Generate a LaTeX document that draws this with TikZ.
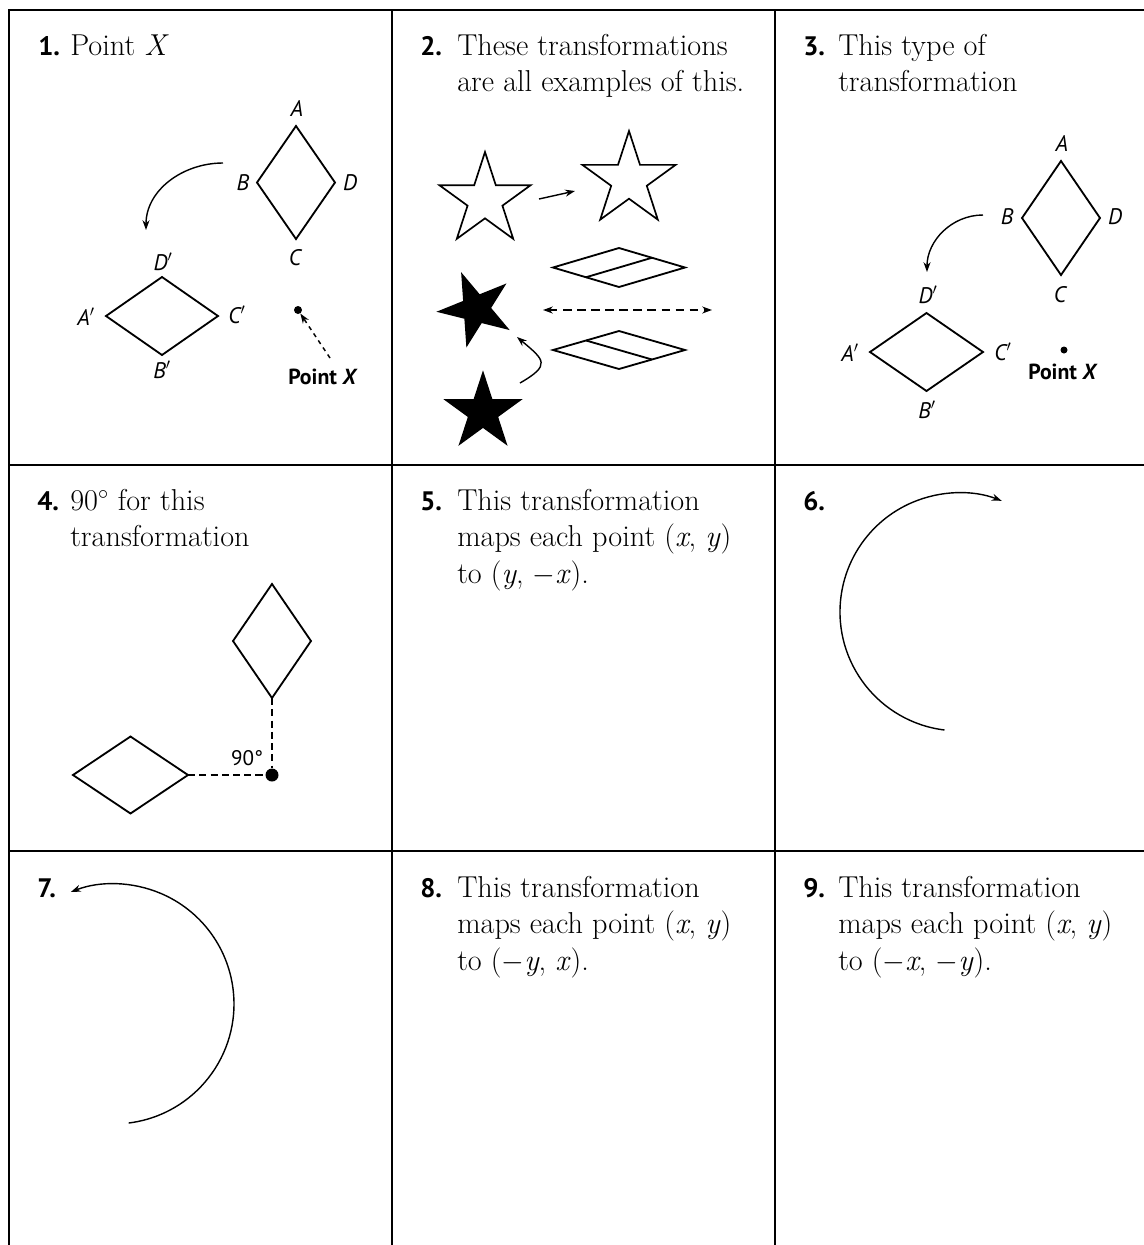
\documentclass[tikz,border=0pt]{standalone}
\usepackage{fontspec}
\setsansfont{PT Sans}
\usepackage{tikz}
\usetikzlibrary{shapes.geometric, arrows.meta, calc}

\def\pxu{0.025cm}

\begin{document}
\begin{tikzpicture}[x=0.025cm, y=0.025cm,
  rule/.style={line width=1.7pt},
  num/.style={font=\fontsize{19}{25}\sffamily\bfseries, inner sep=0, anchor=base west},
  txt/.style={font=\fontsize{21.5}{26.3}\selectfont, inner sep=0, anchor=base west},
  lbl/.style={font=\fontsize{16}{18}\sffamily\itshape, inner sep=0},
  tag/.style={font=\fontsize{15.5}{18}\sffamily\bfseries, inner sep=0},
  rhomb/.style={diamond, draw, line width=1.3pt, inner sep=0, outer sep=0},
  pstar/.style={star, star points=5, star point ratio=2.618, draw, line width=1.2pt, inner sep=0, outer sep=0},
  dot/.style={circle, fill, inner sep=0, minimum size=8*\pxu},
  arr/.style={-{Stealth[length=7pt,width=5pt]}, line width=1pt},
]
  \useasboundingbox (0,0) rectangle (1144,-1245);

  % Table rules
  \draw[rule] (1144,-10) -- (9,-10) -- (9,-1245);
  \draw[rule] (9,-465) -- (1144,-465);
  \draw[rule] (9,-851) -- (1144,-851);
  \draw[rule] (392,-10) -- (392,-1245);
  \draw[rule] (775,-10) -- (775,-1245);

  % Questions
  \node[num] (n1) at (38,-55) {1.};
  \node[txt] (t1) at (70,-55) {Point \textit{X}};
  \node[num] (n2) at (420,-55) {2.};
  \node[txt] (t2) at (457,-55) {\begin{tabular}[t]{@{}l@{}}These transformations\\are all examples of this.\end{tabular}};
  \node[num] (n3) at (803,-55) {3.};
  \node[txt] (t3) at (838,-55) {\begin{tabular}[t]{@{}l@{}}This type of\\transformation\end{tabular}};
  \node[num] (n4) at (37,-510) {4.};
  \node[txt] (t4) at (70,-510) {\begin{tabular}[t]{@{}l@{}}90$^\circ$ for this\\transformation\end{tabular}};
  \node[num] (n5) at (420,-510) {5.};
  \node[txt] (t5) at (457,-510) {\begin{tabular}[t]{@{}l@{}}This transformation\\maps each point (\textit{x}, \textit{y})\\to (\textit{y}, $-$\textit{x}).\end{tabular}};
  \node[num] (n6) at (803,-510) {6.};
  \node[num] (n7) at (37,-897) {7.};
  \node[num] (n8) at (420,-897) {8.};
  \node[txt] (t8) at (457,-897) {\begin{tabular}[t]{@{}l@{}}This transformation\\maps each point (\textit{x}, \textit{y})\\to ($-$\textit{y}, \textit{x}).\end{tabular}};
  \node[num] (n9) at (803,-897) {9.};
  \node[txt] (t9) at (838,-897) {\begin{tabular}[t]{@{}l@{}}This transformation\\maps each point (\textit{x}, \textit{y})\\to ($-$\textit{x}, $-$\textit{y}).\end{tabular}};

  % Panel 1
  \node[rhomb, minimum width=78*\pxu, minimum height=113*\pxu] (r1) at (296,-182.5) {};
  \node[rhomb, minimum width=112*\pxu, minimum height=78*\pxu] (r1p) at (162,-316) {};
  \node[lbl] (l1A) at (297,-108) {A};
  \node[lbl] (l1B) at (243,-183) {B};
  \node[lbl] (l1D) at (350,-183) {D};
  \node[lbl] (l1C) at (295,-258) {C};
  \node[lbl] (l1Dp) at (163,-262) {D$'$};
  \node[lbl] (l1Ap) at (86,-317) {A$'$};
  \node[lbl] (l1Cp) at (237,-315) {C$'$};
  \node[lbl] (l1Bp) at (162,-370) {B$'$};
  \node[dot] (x1) at (298,-310) {};
  \node[tag] (p1) at (323,-377) {Point \textit{X}};
  \coordinate (c1a) at (223,-163);
  \coordinate (c1b) at (146,-230);
  \coordinate (c1c) at (330,-358);
  \draw[arr] (c1a) to[out=180, in=90] (c1b);
  \draw[arr, dashed] (c1c) -- (x1);

  % Panel 2
  \node[pstar, minimum size=96*\pxu] (s2a) at (485,-200) {};
  \node[pstar, minimum size=98*\pxu] (s2b) at (629,-180) {};
  \node[pstar, fill, minimum size=74*\pxu, rotate=94] (s2c) at (476,-309) {};
  \node[pstar, fill, minimum size=78*\pxu] (s2d) at (483,-412) {};
  \node[rhomb, minimum width=132*\pxu, minimum height=39*\pxu] (d2a) at (619,-267.5) {};
  \node[rhomb, minimum width=132*\pxu, minimum height=38*\pxu] (d2b) at (619,-350) {};
  \draw[line width=1.3pt] ($(d2a.west)!0.5!(d2a.south)$) -- ($(d2a.north)!0.5!(d2a.east)$);
  \draw[line width=1.3pt] ($(d2b.west)!0.5!(d2b.north)$) -- ($(d2b.south)!0.5!(d2b.east)$);
  \coordinate (c2a) at (539,-199);
  \coordinate (c2b) at (575,-191);
  \coordinate (c2c) at (543,-310);
  \coordinate (c2d) at (712,-310);
  \coordinate (c2e) at (520,-383);
  \coordinate (c2f) at (517,-337);
  \draw[arr] (c2a) -- (c2b);
  \draw[arr, {Stealth[length=7pt,width=5pt]}-{Stealth[length=7pt,width=5pt]}, dash pattern=on 6pt off 4pt] (c2c) -- (c2d);
  \draw[arr] (c2e) to[out=30, in=-40, looseness=2] (c2f);

  % Panel 3
  \node[rhomb, minimum width=78*\pxu, minimum height=114*\pxu] (r3) at (1061,-218) {};
  \node[rhomb, minimum width=113*\pxu, minimum height=78*\pxu] (r3p) at (926.5,-352) {};
  \node[lbl] (l3A) at (1062,-143) {A};
  \node[lbl] (l3B) at (1007,-217) {B};
  \node[lbl] (l3D) at (1115,-217) {D};
  \node[lbl] (l3C) at (1060,-295) {C};
  \node[lbl] (l3Dp) at (928,-295) {D$'$};
  \node[lbl] (l3Ap) at (850,-353) {A$'$};
  \node[lbl] (l3Cp) at (1003,-352) {C$'$};
  \node[lbl] (l3Bp) at (927,-410) {B$'$};
  \node[dot, minimum size=7*\pxu] (x3) at (1064,-350) {};
  \node[tag] (p3) at (1063,-372) {Point \textit{X}};
  \coordinate (c3a) at (983,-215);
  \coordinate (c3b) at (927,-272);
  \draw[arr] (c3a) to[out=180, in=90] (c3b);

  % Panel 4
  \node[rhomb, minimum width=78*\pxu, minimum height=114*\pxu] (r4) at (272,-641) {};
  \node[rhomb, minimum width=115*\pxu, minimum height=77*\pxu] (r4p) at (130.5,-775) {};
  \node[dot, minimum size=13*\pxu] (o4) at (272,-775) {};
  \draw[line width=1.2pt, dashed, dash pattern=on 5pt off 3pt] (r4.south) -- (o4);
  \draw[line width=1.2pt, dashed, dash pattern=on 5pt off 3pt] (r4p.east) -- (o4);
  \node[font=\fontsize{15}{17}\sffamily, inner sep=0] (a4) at (247,-758) {90°};

  % Panel 6
  \coordinate (c6) at (944.5,-730);
  \draw[arr] (c6) arc[start angle=263, end angle=69, radius=119];

  % Panel 7
  \coordinate (c7) at (128.6,-1123);
  \draw[arr] (c7) arc[start angle=-83, end angle=111, radius=120];
\end{tikzpicture}
\end{document}
